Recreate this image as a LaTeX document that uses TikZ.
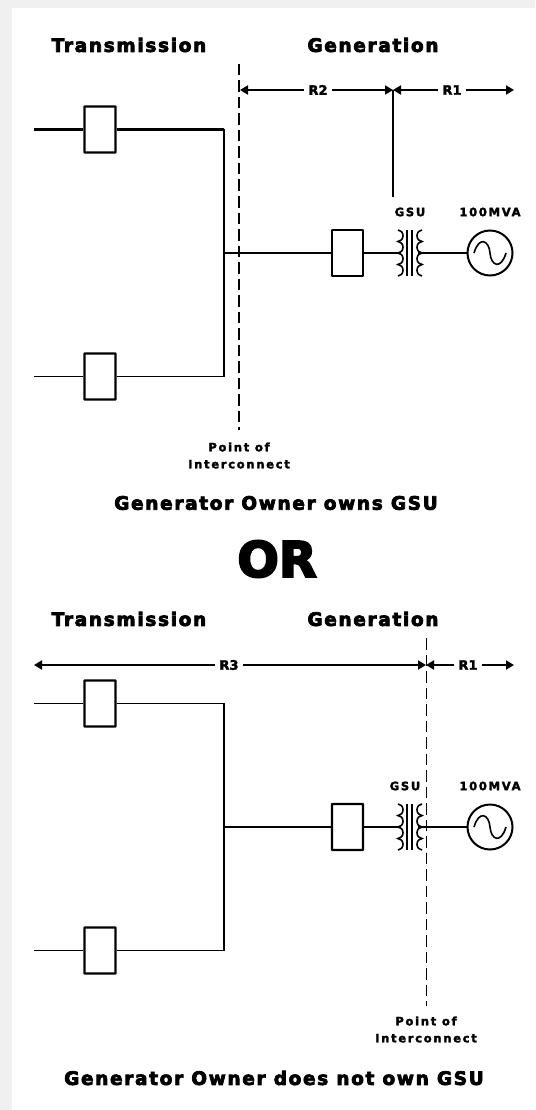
\documentclass[tikz,border=0pt]{standalone}
\usepackage{fontspec}
\setmainfont{DejaVu Sans}[BoldFont={DejaVu Sans Bold}]
\usetikzlibrary{arrows.meta}
\newfontfamily\heavy{DejaVu Sans Bold}[FakeBold=4,LetterSpace=9]
\newfontfamily\heavyor{DejaVu Sans Bold}[FakeBold=4]
\newfontfamily\labelface{DejaVu Sans Bold}[FakeBold=2.5,LetterSpace=15]
\newfontfamily\dimface{DejaVu Sans Bold}[FakeBold=2.5]
\tikzset{
  x=1pt,y=-1pt,
  wire/.style={line width=1.8pt,black},
  thick wire/.style={line width=2.4pt,black},
  breaker/.style={draw=black,line width=2.4pt,fill=white,minimum width=31pt,minimum height=46pt,inner sep=0pt,rounded corners=0.5pt},
  genset/.style={draw=black,line width=2pt,circle,minimum size=45pt,inner sep=0pt,fill=white},
  dim/.style={line width=1.8pt,black,{Triangle[length=8pt,width=9pt]}-{Triangle[length=8pt,width=9pt]}},
  lab/.style={font=\labelface\fontsize{11.5}{17}\selectfont,inner sep=1pt,align=center},
  dimlab/.style={font=\dimface\fontsize{13}{14}\selectfont,inner sep=0pt,fill=white,minimum width=28pt,minimum height=12pt},
  headtext/.style={font=\heavy\fontsize{18.5}{20}\selectfont,inner sep=0pt},
  captext/.style={font=\heavy\fontsize{18.5}{20}\selectfont,inner sep=0pt},
}
\newcommand{\coilL}[2]{\draw[wire,line width=1.6pt] (#1,#2-23) arc[start angle=-90,end angle=90,x radius=5,y radius=5.75] arc[start angle=-90,end angle=90,x radius=5,y radius=5.75] arc[start angle=-90,end angle=90,x radius=5,y radius=5.75] arc[start angle=-90,end angle=90,x radius=5,y radius=5.75];}
\newcommand{\coilR}[2]{\draw[wire,line width=1.6pt] (#1,#2-23) arc[start angle=270,end angle=90,x radius=5,y radius=5.75] arc[start angle=270,end angle=90,x radius=5,y radius=5.75] arc[start angle=270,end angle=90,x radius=5,y radius=5.75] arc[start angle=270,end angle=90,x radius=5,y radius=5.75];}
\newcommand{\coreat}[2]{\draw[line width=1.2pt] (#1-2.5,#2-23) -- (#1-2.5,#2+23) (#1+2.5,#2-23) -- (#1+2.5,#2+23);}
\newcommand{\sine}[1]{\draw[line width=1.6pt] ([xshift=-16pt]#1.center) .. controls +(5,-17) and +(-1,-13) .. (#1.center) .. controls +(1,13) and +(-5,17) .. ([xshift=16pt]#1.center);}
\begin{document}
\begin{tikzpicture}
\useasboundingbox (0,0) rectangle (535,1110);
\fill[black!6] (0,0) rectangle (535,1110);
\fill[white] (12,8) rectangle (535,1110);

% ---- top
\node[headtext] (t1) at (129,45) {Transmission};
\node[headtext] (g1) at (373,45) {Generation};
\coordinate (a1) at (34,129.5);
\coordinate (b1) at (34,376.5);
\coordinate (j1) at (224,253);
\coordinate (k1) at (224,129.5);
\node[breaker] (ba) at (100,129.5) {};
\node[breaker] (bb) at (100,376.5) {};
\node[breaker,line width=1.8pt] (bc) at (347.5,253) {};
\node[genset] (gen1) at (490,253) {};
\coordinate (cl1) at (401,253);
\coordinate (cr1) at (418,253);
\draw[thick wire] (a1) -- (ba.west);
\draw[wire] (b1) -- (bb.west);
\draw[thick wire] (ba.east) -- (k1);
\draw[wire] (k1) -- (j1) |- (bb.east);
\draw[wire] (j1) -- (bc.west);
\draw[wire] (bc.east) -- (cl1);
\draw[wire] (cr1) -- (gen1.west);
\coilL{398}{253}
\coreat{409.5}{253}
\coilR{422}{253}
\sine{gen1}
\coordinate (p1t) at (239,64);
\coordinate (p1b) at (239,430);
\draw[line width=2.2pt,dash pattern=on 11.5pt off 5pt] (p1t) -- (p1b);
\coordinate (m1) at (393,90);
\coordinate (m1b) at (393,197);
\coordinate (l1) at (240,90);
\coordinate (e1) at (514,90);
\draw[dim] (l1) -- (m1);
\draw[dim] (m1) -- (e1);
\draw[wire] (m1) -- (m1b);
\node[dimlab] (r2) at (318,90) {R2};
\node[dimlab] (r1a) at (452,90) {R1};
\node[lab] (gsu1) at (410,212) {GSU};
\node[lab] (mva1) at (490,212) {100MVA};
\node[lab] (poi1) at (239,455.5) {Point of\\Interconnect};
\node[captext] (c1) at (276,503) {Generator Owner owns GSU};
\node[font=\heavyor\fontsize{49}{51}\selectfont,inner sep=0pt] (or) at (277,559) {OR};

% ---- bottom
\node[headtext] (t2) at (129,619) {Transmission};
\node[headtext] (g2) at (373,619) {Generation};
\coordinate (a2) at (34,703.5);
\coordinate (b2) at (34,950.5);
\coordinate (j2) at (224,827);
\node[breaker] (bd) at (100,703.5) {};
\node[breaker] (be) at (100,950.5) {};
\node[breaker] (bf) at (347.5,827) {};
\node[genset] (gen2) at (490,827) {};
\coordinate (cl2) at (401,827);
\coordinate (cr2) at (418,827);
\draw[wire] (a2) -- (bd.west);
\draw[wire] (b2) -- (be.west);
\draw[wire] (bd.east) -| (j2) |- (be.east);
\draw[thick wire] (j2) -- (bf.west);
\draw[wire] (bf.east) -- (cl2);
\draw[wire] (cr2) -- (gen2.west);
\coilL{398}{827}
\coreat{409.5}{827}
\coilR{422}{827}
\sine{gen2}
\coordinate (p2t) at (426.5,638);
\coordinate (p2b) at (426.5,1006);
\draw[line width=1.5pt,dash pattern=on 11.5pt off 5pt] (p2t) -- (p2b);
\coordinate (l2) at (34,665);
\coordinate (m2) at (426,665);
\coordinate (e2) at (514,665);
\draw[dim,line width=2.2pt] (l2) -- (m2);
\draw[dim,line width=2.2pt] (m2) -- (e2);
\node[dimlab] (r3) at (229,665) {R3};
\node[dimlab] (r1b) at (468,665) {R1};
\node[lab] (gsu2) at (405,786) {GSU};
\node[lab] (mva2) at (490,786) {100MVA};
\node[lab] (poi2) at (426,1029.5) {Point of\\Interconnect};
\node[captext] (c2) at (274,1078) {Generator Owner does not own GSU};
\end{tikzpicture}
\end{document}
